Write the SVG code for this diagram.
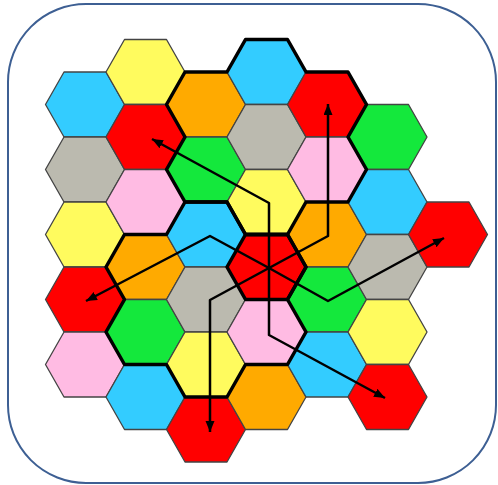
<svg xmlns="http://www.w3.org/2000/svg" width="498" height="485" viewBox="0 0 498 485">
<style>
.h{stroke:#444;stroke-width:1.3;stroke-linejoin:round}
.r{fill:#ff0000}.y{fill:#fffb5e}.b{fill:#33ccff}.o{fill:#ffaa00}.g{fill:#14e83c}.s{fill:#bbbaaf}.p{fill:#ffbbe3}
.cl{fill:none;stroke:#000;stroke-width:3.5;stroke-linejoin:round}
.ar{fill:none;stroke:#000;stroke-width:2.5;stroke-linejoin:round;marker-end:url(#ah)}
</style>
<defs>
<polygon id="hex" points="-39.5,0 -21,-32.5 21,-32.5 39.5,0 21,32.5 -21,32.5"/>
<polygon id="flower" points="-21,-97.5 21,-97.5 39.5,-65 81.5,-65 100,-32.5 81.5,0 100,32.5 81.5,65 39.5,65 21,97.5 -21,97.5 -39.5,65 -81.5,65 -100,32.5 -81.5,0 -100,-32.5 -81.5,-65 -39.5,-65"/>
<marker id="ah" markerUnits="userSpaceOnUse" markerWidth="12" markerHeight="10" refX="11" refY="4.5" orient="auto">
<path d="M0,0 L11,4.5 L0,9 z" fill="#000"/>
</marker>
</defs>
<rect x="8" y="4" width="488" height="479" rx="78" ry="78" fill="#fff" stroke="#3d5f93" stroke-width="2"/>
<g id="cells">
<g id="c0r0"><use href="#hex" class="h b" x="85" y="104.5"/></g>
<g id="c0r1"><use href="#hex" class="h s" x="85" y="169.5"/></g>
<g id="c0r2"><use href="#hex" class="h y" x="85" y="234.5"/></g>
<g id="c0r3"><use href="#hex" class="h r" x="85" y="299.5"/></g>
<g id="c0r4"><use href="#hex" class="h p" x="85" y="364.5"/></g>
<g id="c1r0"><use href="#hex" class="h y" x="145.5" y="72"/></g>
<g id="c1r1"><use href="#hex" class="h r" x="145.5" y="137"/></g>
<g id="c1r2"><use href="#hex" class="h p" x="145.5" y="202"/></g>
<g id="c1r3"><use href="#hex" class="h o" x="145.5" y="267"/></g>
<g id="c1r4"><use href="#hex" class="h g" x="145.5" y="332"/></g>
<g id="c1r5"><use href="#hex" class="h b" x="145.5" y="397"/></g>
<g id="c2r0"><use href="#hex" class="h o" x="206" y="104.5"/></g>
<g id="c2r1"><use href="#hex" class="h g" x="206" y="169.5"/></g>
<g id="c2r2"><use href="#hex" class="h b" x="206" y="234.5"/></g>
<g id="c2r3"><use href="#hex" class="h s" x="206" y="299.5"/></g>
<g id="c2r4"><use href="#hex" class="h y" x="206" y="364.5"/></g>
<g id="c2r5"><use href="#hex" class="h r" x="206" y="429.5"/></g>
<g id="c3r0"><use href="#hex" class="h b" x="266.5" y="72"/></g>
<g id="c3r1"><use href="#hex" class="h s" x="266.5" y="137"/></g>
<g id="c3r2"><use href="#hex" class="h y" x="266.5" y="202"/></g>
<g id="c3r3"><use href="#hex" class="h r" x="266.5" y="267"/></g>
<g id="c3r4"><use href="#hex" class="h p" x="266.5" y="332"/></g>
<g id="c3r5"><use href="#hex" class="h o" x="266.5" y="397"/></g>
<g id="c4r0"><use href="#hex" class="h r" x="327" y="104.5"/></g>
<g id="c4r1"><use href="#hex" class="h p" x="327" y="169.5"/></g>
<g id="c4r2"><use href="#hex" class="h o" x="327" y="234.5"/></g>
<g id="c4r3"><use href="#hex" class="h g" x="327" y="299.5"/></g>
<g id="c4r4"><use href="#hex" class="h b" x="327" y="364.5"/></g>
<g id="c5r1"><use href="#hex" class="h g" x="387.5" y="137"/></g>
<g id="c5r2"><use href="#hex" class="h b" x="387.5" y="202"/></g>
<g id="c5r3"><use href="#hex" class="h s" x="387.5" y="267"/></g>
<g id="c5r4"><use href="#hex" class="h y" x="387.5" y="332"/></g>
<g id="c5r5"><use href="#hex" class="h r" x="387.5" y="397"/></g>
<g id="c6r2"><use href="#hex" class="h r" x="448" y="234.5"/></g>
</g>
<g id="clusters">
<use href="#flower" class="cl" x="266.5" y="137"/>
<use href="#flower" class="cl" x="206" y="299.5"/>
<use href="#hex" class="cl" x="266.5" y="267"/>
</g>
<g id="connectors">
<polyline class="ar" points="269,268 269,203 152,139"/>
<polyline class="ar" points="269,268 328,236 328,104"/>
<polyline class="ar" points="269,268 328,301 444,238"/>
<polyline class="ar" points="269,268 269,335 385,398"/>
<polyline class="ar" points="269,268 210,300 210,432"/>
<polyline class="ar" points="269,268 210,236 86,301"/>
</g>
</svg>
